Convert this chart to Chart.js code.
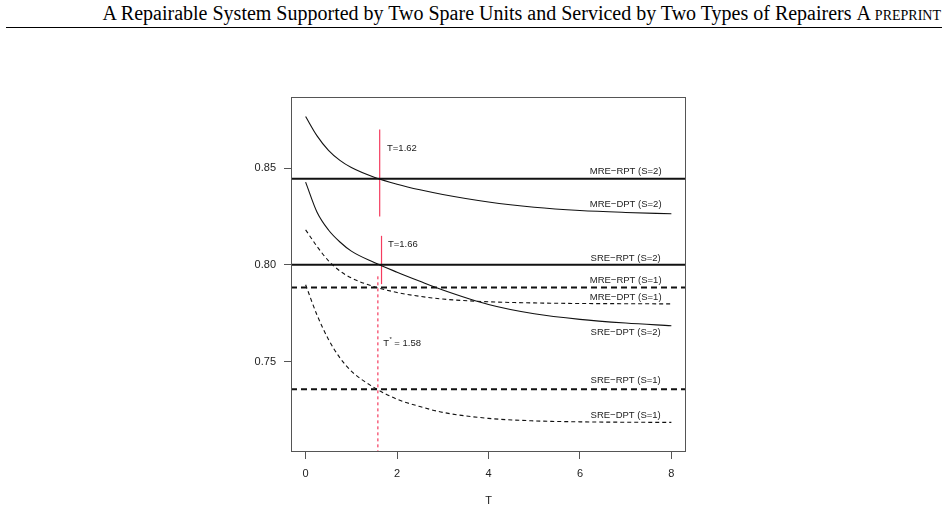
<!DOCTYPE html>
<html>
<head>
<meta charset="utf-8">
<script src="https://cdn.jsdelivr.net/npm/chart.js@4.4.1/dist/chart.umd.min.js"></script>
<style>
  html, body { margin: 0; padding: 0; background: #fff; }
  body { width: 948px; height: 511px; position: relative; overflow: hidden; }
  #header { position: absolute; right: 7px; top: 2px; font: 20px 'Liberation Serif', 'Times New Roman', serif; line-height: 22px; white-space: nowrap; color: #000; }
  #header span { font-variant: small-caps; }
  #rule { position: absolute; left: 6px; right: 6px; top: 27px; height: 1px; background: #000; }
  canvas { position: absolute; left: 0; top: 0; }
</style>
</head>
<body>
<div id="header">A Repairable System Supported by Two Spare Units and Serviced by Two Types of Repairers <span>A preprint</span></div>
<div id="rule"></div>
<canvas id="grafico" width="948" height="511"></canvas>
<script>
// values
const tGrid    = [0, 0.25, 0.5, 0.75, 1, 1.5, 2, 2.5, 3, 4, 5, 6, 7, 8];
const mreDptS2 = [0.8767, 0.8667, 0.8592, 0.8540, 0.8503, 0.8453, 0.8417, 0.8388, 0.8364, 0.8325, 0.8298, 0.8281, 0.8271, 0.8264];
const sreDptS2 = [0.8428, 0.8272, 0.8180, 0.8118, 0.8071, 0.8012, 0.7962, 0.7915, 0.7870, 0.7795, 0.7747, 0.7718, 0.7699, 0.7685];
const mreDptS1 = [0.8181, 0.8095, 0.8021, 0.7968, 0.7932, 0.7887, 0.7857, 0.7837, 0.7823, 0.7809, 0.7803, 0.7800, 0.7799, 0.7798];
const sreDptS1 = [0.7897, 0.7740, 0.7614, 0.7519, 0.7450, 0.7365, 0.7305, 0.7267, 0.7237, 0.7206, 0.7193, 0.7188, 0.7186, 0.7185];
const mreRptS2 = 0.8445;
const sreRptS2 = 0.8001;
const mreRptS1 = 0.7883;
const sreRptS1 = 0.7356;

const xTicks = [0, 2, 4, 6, 8];
const yTicks = [0.75, 0.80, 0.85];
const xRange = [-0.32, 8.32];
const yRange = [0.7032, 0.8868];

// red crossing markers
const markT    = [1.62, 1.66];
const markLow  = [0.825, 0.790];
const markHigh = [0.870, 0.815];
const tStar    = 1.58;
const tStarTop = 0.7945;

const curveNames = ['MRE\u2212RPT (S=2)', 'MRE\u2212DPT (S=2)', 'SRE\u2212RPT (S=2)', 'MRE\u2212RPT (S=1)',
                    'MRE\u2212DPT (S=1)', 'SRE\u2212DPT (S=2)', 'SRE\u2212RPT (S=1)', 'SRE\u2212DPT (S=1)'];
const nameY = [0.8482, 0.8315, 0.8031, 0.7919, 0.7833, 0.7652, 0.7402, 0.7224];
const nameX = 7;

const FONT = "'Liberation Sans', Arial, sans-serif";
const RED = 'rgb(245,60,95)';
Chart.defaults.font.family = FONT;

const pts = (arr) => tGrid.map((t, i) => ({ x: t, y: arr[i] }));
const flat = (v) => [{ x: xRange[0], y: v }, { x: xRange[1], y: v }];

const curve = (arr, dashed) => ({
  data: pts(arr), borderColor: '#111', borderWidth: 1.1,
  borderDash: dashed ? [4, 3] : [], cubicInterpolationMode: 'monotone', pointRadius: 0
});
const level = (v, dashed) => ({
  data: flat(v), borderColor: '#111', borderWidth: 2,
  borderDash: dashed ? [6, 4] : [], pointRadius: 0
});
const red = (t, lo, hi, dashed) => ({
  data: [{ x: t, y: lo }, { x: t, y: hi }], borderColor: RED,
  borderWidth: 1.2, borderDash: dashed ? [3, 3] : [], pointRadius: 0
});

const overlay = {
  id: 'overlay',
  afterDatasetsDraw(chart) {
    const { ctx, chartArea: a, scales: { x, y } } = chart;
    ctx.save();
    ctx.strokeStyle = '#555';
    ctx.lineWidth = 1;
    ctx.strokeRect(a.left + 0.5, a.top + 0.5, a.right - a.left - 1, a.bottom - a.top - 1);

    ctx.fillStyle = '#222';
    ctx.textBaseline = 'middle';
    ctx.font = '9.5px ' + FONT;
    ctx.textAlign = 'center';
    curveNames.forEach((n, i) => ctx.fillText(n, x.getPixelForValue(nameX), y.getPixelForValue(nameY[i])));

    ctx.textAlign = 'left';
    ctx.fillText('T=' + markT[0].toFixed(2), x.getPixelForValue(1.78), y.getPixelForValue(0.8603));
    ctx.fillText('T=' + markT[1].toFixed(2), x.getPixelForValue(1.80), y.getPixelForValue(0.8107));

    const px = x.getPixelForValue(1.70), py = y.getPixelForValue(0.7595);
    ctx.fillText('T', px, py);
    const w = ctx.measureText('T').width;
    ctx.font = '6px ' + FONT;
    ctx.fillText('*', px + w + 0.3, py - 4);
    ctx.font = '9.5px ' + FONT;
    ctx.fillText(' = ' + tStar.toFixed(2), px + w + 2.5, py);
    ctx.restore();
  }
};

new Chart(document.getElementById('grafico').getContext('2d'), {
  type: 'line',
  data: {
    datasets: [
      curve(mreDptS2, false),
      curve(sreDptS2, false),
      curve(mreDptS1, true),
      curve(sreDptS1, true),
      level(mreRptS2, false),
      level(sreRptS2, false),
      level(mreRptS1, true),
      level(sreRptS1, true),
      red(markT[0], markLow[0], markHigh[0], false),
      red(markT[1], markLow[1], markHigh[1], false),
      red(tStar, yRange[0] - 0.01, tStarTop, true)
    ]
  },
  options: {
    responsive: false,
    animation: false,
    layout: { padding: { left: 231, top: 97, right: 262, bottom: 0 } },
    plugins: { legend: { display: false }, tooltip: { enabled: false } },
    scales: {
      x: {
        type: 'linear', min: xRange[0], max: xRange[1],
        afterBuildTicks: (s) => { s.ticks = xTicks.map(v => ({ value: v })); },
        afterFit: (s) => { s.height = 59; },
        grid: { drawOnChartArea: false, drawTicks: true, tickLength: 7, color: '#555' },
        border: { display: false },
        ticks: { padding: 8, color: '#222', font: { size: 11 }, maxRotation: 0, callback: (v) => String(v) },
        title: { display: true, text: 'T', color: '#222', font: { size: 11 }, padding: { top: 0, bottom: 3 } }
      },
      y: {
        type: 'linear', min: yRange[0], max: yRange[1],
        afterBuildTicks: (s) => { s.ticks = yTicks.map(v => ({ value: v })); },
        afterFit: (s) => { s.width = 60; },
        grid: { drawOnChartArea: false, drawTicks: true, tickLength: 7, color: '#555' },
        border: { display: false },
        ticks: { padding: 8, color: '#222', font: { size: 11 }, callback: (v) => v.toFixed(2) }
      }
    }
  },
  plugins: [overlay]
});
</script>
</body>
</html>
